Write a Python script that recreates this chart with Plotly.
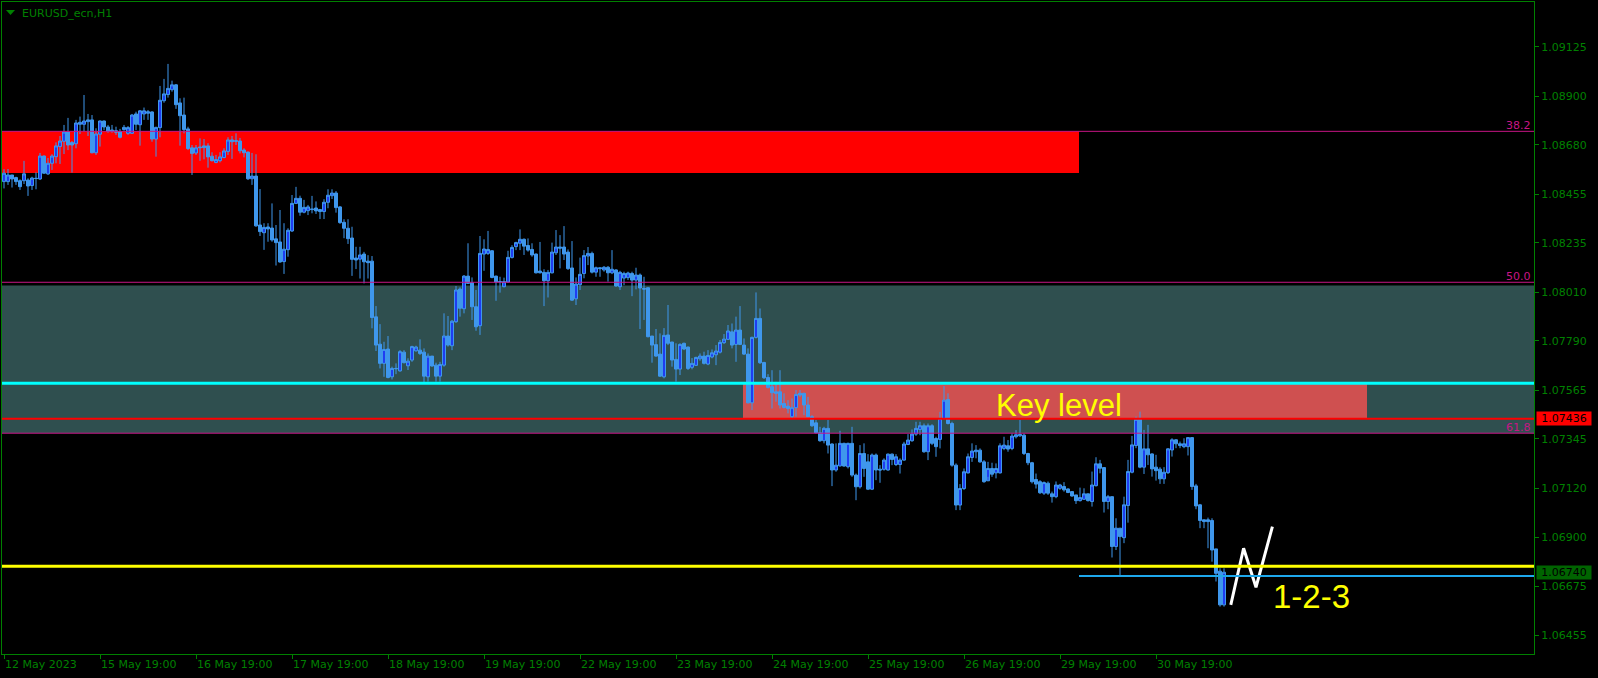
import plotly.graph_objects as go

# ---------------- data (EURUSD_ecn, H1) ----------------
open_ = [1.08513,1.08513,1.08543,1.08531,1.08517,1.08517,1.08520,1.08495,1.08528,1.08525,
1.08629,1.08548,1.08596,1.08626,1.08672,1.08696,1.08738,1.08690,1.08685,1.08773,
1.08773,1.08785,1.08793,1.08644,1.08728,1.08788,1.08761,1.08747,1.08744,1.08740,
1.08749,1.08732,1.08732,1.08820,1.08771,1.08820,1.08823,1.08829,1.08706,1.08758,
1.08880,1.08908,1.08930,1.08952,1.08870,1.08815,1.08752,1.08666,1.08643,1.08670,
1.08675,1.08675,1.08628,1.08600,1.08608,1.08622,1.08650,1.08702,1.08699,1.08697,
1.08656,1.08647,1.08526,1.08538,1.08316,1.08281,1.08307,1.08302,1.08253,1.08239,
1.08150,1.08204,1.08289,1.08414,1.08437,1.08374,1.08381,1.08389,1.08393,1.08386,
1.08377,1.08419,1.08449,1.08461,1.08398,1.08328,1.08301,1.08257,1.08166,1.08161,
1.08184,1.08152,1.08152,1.07899,1.07775,1.07688,1.07753,1.07627,1.07665,1.07654,
1.07739,1.07677,1.07703,1.07745,1.07748,1.07739,1.07627,1.07721,1.07680,1.07630,
1.07680,1.07812,1.07768,1.07877,1.08025,1.07936,1.08084,1.08054,1.07945,1.07859,
1.08184,1.08187,1.08199,1.08084,1.08059,1.08036,1.08057,1.08169,1.08218,1.08233,
1.08251,1.08223,1.08205,1.08184,1.08107,1.08101,1.08063,1.08099,1.08190,1.08216,
1.08216,1.08193,1.08121,1.07981,1.08045,1.08096,1.08175,1.08187,1.08102,1.08122,
1.08112,1.08124,1.08099,1.08112,1.08036,1.08075,1.08077,1.08096,1.08066,1.08089,
1.08028,1.08031,1.07812,1.07773,1.07730,1.07627,1.07817,1.07785,1.07706,1.07662,
1.07779,1.07762,1.07670,1.07679,1.07709,1.07721,1.07685,1.07717,1.07727,1.07739,
1.07782,1.07797,1.07831,1.07774,1.07839,1.07771,1.07730,1.07509,1.07806,1.07892,
1.07692,1.07624,1.07582,1.07559,1.07559,1.07506,1.07494,1.07446,1.07487,1.07552,
1.07552,1.07499,1.07446,1.07418,1.07373,1.07337,1.07393,1.07322,1.07204,1.07223,
1.07325,1.07219,1.07325,1.07181,1.07128,1.07279,1.07241,1.07117,1.07272,1.07208,
1.07207,1.07204,1.07276,1.07229,1.07229,1.07249,1.07320,1.07337,1.07367,1.07388,
1.07405,1.07287,1.07405,1.07347,1.07343,1.07438,1.07524,1.07415,1.07226,1.07045,
1.07120,1.07191,1.07261,1.07287,1.07294,1.07241,1.07155,1.07211,1.07191,1.07191,
1.07302,1.07314,1.07302,1.07355,1.07359,1.07362,1.07279,1.07237,1.07161,1.07151,
1.07099,1.07144,1.07096,1.07083,1.07121,1.07129,1.07118,1.07106,1.07091,1.07065,
1.07071,1.07096,1.07061,1.07133,1.07232,1.07215,1.07061,1.07083,1.06857,1.06940,
1.06897,1.07043,1.07194,1.07315,1.07434,1.07217,1.07300,1.07277,1.07217,1.07208,
1.07164,1.07192,1.07295,1.07341,1.07323,1.07310,1.07310,1.07351,1.07132,1.07046,
1.06978,1.06978,1.06975,1.06846,1.06745,1.06592]

high = [1.08569,1.08570,1.08543,1.08535,1.08523,1.08607,1.08528,1.08535,1.08555,1.08643,
1.08632,1.08620,1.08637,1.08691,1.08720,1.08770,1.08802,1.08697,1.08793,1.08808,
1.08906,1.08820,1.08815,1.08755,1.08790,1.08790,1.08770,1.08770,1.08762,1.08752,
1.08770,1.08765,1.08820,1.08830,1.08838,1.08849,1.08838,1.08832,1.08762,1.08947,
1.08979,1.09047,1.08971,1.08956,1.08891,1.08894,1.08762,1.08679,1.08679,1.08709,
1.08706,1.08687,1.08646,1.08634,1.08646,1.08664,1.08714,1.08720,1.08732,1.08711,
1.08664,1.08649,1.08643,1.08637,1.08479,1.08324,1.08324,1.08414,1.08316,1.08384,
1.08324,1.08301,1.08452,1.08489,1.08449,1.08430,1.08407,1.08448,1.08423,1.08389,
1.08433,1.08478,1.08478,1.08470,1.08402,1.08342,1.08342,1.08308,1.08217,1.08217,
1.08194,1.08179,1.08175,1.07948,1.07866,1.07786,1.07812,1.07673,1.07688,1.07748,
1.07748,1.07711,1.07768,1.07768,1.07797,1.07756,1.07733,1.07721,1.07691,1.07695,
1.07915,1.07903,1.07885,1.08039,1.08033,1.08089,1.08233,1.08078,1.08021,1.08266,
1.08251,1.08289,1.08202,1.08086,1.08081,1.08077,1.08199,1.08224,1.08240,1.08296,
1.08255,1.08255,1.08233,1.08187,1.08239,1.08115,1.08112,1.08236,1.08293,1.08270,
1.08311,1.08205,1.08243,1.08078,1.08168,1.08202,1.08216,1.08195,1.08127,1.08124,
1.08130,1.08130,1.08202,1.08115,1.08108,1.08104,1.08104,1.08104,1.08122,1.08096,
1.08081,1.08033,1.07812,1.07844,1.07824,1.07848,1.07953,1.07785,1.07779,1.07779,
1.07782,1.07764,1.07712,1.07718,1.07733,1.07741,1.07748,1.07751,1.07771,1.07794,
1.07821,1.07862,1.07869,1.07900,1.07948,1.07801,1.07756,1.07809,1.08010,1.07937,
1.07695,1.07639,1.07657,1.07604,1.07657,1.07552,1.07521,1.07529,1.07567,1.07567,
1.07555,1.07536,1.07453,1.07431,1.07400,1.07400,1.07431,1.07325,1.07325,1.07382,
1.07328,1.07328,1.07400,1.07188,1.07317,1.07325,1.07276,1.07279,1.07279,1.07226,
1.07257,1.07279,1.07279,1.07276,1.07257,1.07332,1.07367,1.07388,1.07423,1.07423,
1.07415,1.07415,1.07412,1.07355,1.07468,1.07585,1.07552,1.07423,1.07234,1.07140,
1.07211,1.07279,1.07325,1.07317,1.07302,1.07249,1.07241,1.07237,1.07234,1.07325,
1.07355,1.07340,1.07370,1.07385,1.07431,1.07370,1.07282,1.07241,1.07188,1.07158,
1.07152,1.07152,1.07106,1.07152,1.07141,1.07149,1.07121,1.07106,1.07091,1.07124,
1.07121,1.07096,1.07197,1.07262,1.07250,1.07216,1.07091,1.07083,1.06985,1.06940,
1.07083,1.07250,1.07359,1.07447,1.07469,1.07386,1.07409,1.07280,1.07273,1.07217,
1.07217,1.07303,1.07348,1.07344,1.07333,1.07348,1.07353,1.07353,1.07141,1.07050,
1.06978,1.06988,1.06985,1.06846,1.06758,1.06758]

low = [1.08482,1.08498,1.08486,1.08498,1.08475,1.08502,1.08448,1.08475,1.08478,1.08520,
1.08548,1.08543,1.08566,1.08596,1.08593,1.08638,1.08656,1.08554,1.08664,1.08729,
1.08740,1.08720,1.08641,1.08634,1.08672,1.08747,1.08735,1.08735,1.08725,1.08709,
1.08744,1.08725,1.08729,1.08747,1.08676,1.08793,1.08793,1.08694,1.08626,1.08714,
1.08871,1.08894,1.08921,1.08843,1.08676,1.08732,1.08656,1.08543,1.08634,1.08607,
1.08614,1.08576,1.08604,1.08596,1.08600,1.08619,1.08634,1.08616,1.08679,1.08641,
1.08623,1.08520,1.08498,1.08308,1.08266,1.08203,1.08240,1.08240,1.08132,1.08145,
1.08094,1.08172,1.08284,1.08411,1.08358,1.08369,1.08361,1.08369,1.08366,1.08343,
1.08343,1.08392,1.08434,1.08372,1.08321,1.08256,1.08230,1.08085,1.08116,1.08073,
1.08051,1.08073,1.07847,1.07744,1.07665,1.07627,1.07620,1.07615,1.07639,1.07650,
1.07688,1.07658,1.07695,1.07741,1.07726,1.07597,1.07605,1.07673,1.07605,1.07605,
1.07673,1.07764,1.07748,1.07872,1.07900,1.07915,1.08048,1.07885,1.07836,1.07817,
1.08108,1.08180,1.08074,1.07972,1.08009,1.08033,1.08054,1.08164,1.08202,1.08202,
1.08180,1.08195,1.08172,1.08096,1.08096,1.07948,1.07987,1.08096,1.08180,1.08119,
1.08157,1.08112,1.07972,1.07953,1.08021,1.08074,1.08134,1.08096,1.08081,1.08081,
1.08104,1.08059,1.08093,1.08036,1.08021,1.08043,1.08066,1.07993,1.08024,1.07844,
1.07885,1.07806,1.07691,1.07718,1.07627,1.07620,1.07771,1.07673,1.07605,1.07635,
1.07748,1.07658,1.07661,1.07676,1.07700,1.07683,1.07680,1.07711,1.07680,1.07733,
1.07776,1.07794,1.07756,1.07695,1.07771,1.07726,1.07506,1.07476,1.07801,1.07685,
1.07617,1.07574,1.07483,1.07514,1.07483,1.07483,1.07461,1.07438,1.07446,1.07536,
1.07453,1.07446,1.07400,1.07370,1.07332,1.07325,1.07279,1.07131,1.07196,1.07219,
1.07219,1.07211,1.07173,1.07067,1.07120,1.07173,1.07113,1.07113,1.07158,1.07146,
1.07201,1.07201,1.07226,1.07222,1.07188,1.07246,1.07317,1.07332,1.07359,1.07362,
1.07282,1.07249,1.07317,1.07264,1.07302,1.07434,1.07411,1.07219,1.07022,1.07022,
1.07113,1.07188,1.07241,1.07257,1.07237,1.07146,1.07173,1.07173,1.07166,1.07188,
1.07294,1.07287,1.07294,1.07347,1.07355,1.07272,1.07226,1.07143,1.07120,1.07095,
1.07091,1.07091,1.07056,1.07076,1.07114,1.07106,1.07099,1.07083,1.07050,1.07061,
1.07068,1.07061,1.07038,1.07129,1.07189,1.07011,1.07026,1.06807,1.06841,1.06723,
1.06872,1.06965,1.07189,1.07303,1.07212,1.07186,1.07227,1.07174,1.07156,1.07141,
1.07141,1.07186,1.07265,1.07303,1.07303,1.07303,1.07270,1.07114,1.07026,1.06940,
1.06940,1.06849,1.06788,1.06698,1.06584,1.06584]

close = [1.08551,1.08543,1.08525,1.08513,1.08490,1.08548,1.08493,1.08529,1.08527,1.08629,
1.08551,1.08596,1.08629,1.08675,1.08697,1.08738,1.08679,1.08679,1.08779,1.08782,
1.08788,1.08793,1.08644,1.08729,1.08788,1.08761,1.08740,1.08740,1.08737,1.08714,
1.08759,1.08758,1.08815,1.08773,1.08834,1.08834,1.08830,1.08706,1.08759,1.08882,
1.08911,1.08936,1.08952,1.08862,1.08812,1.08749,1.08663,1.08641,1.08666,1.08667,
1.08667,1.08625,1.08608,1.08613,1.08625,1.08652,1.08702,1.08694,1.08696,1.08653,
1.08644,1.08526,1.08538,1.08312,1.08286,1.08305,1.08298,1.08248,1.08236,1.08148,
1.08206,1.08292,1.08414,1.08437,1.08374,1.08396,1.08398,1.08386,1.08380,1.08377,
1.08419,1.08451,1.08461,1.08395,1.08327,1.08301,1.08254,1.08160,1.08157,1.08180,
1.08149,1.08145,1.07896,1.07771,1.07688,1.07751,1.07624,1.07665,1.07664,1.07741,
1.07691,1.07698,1.07764,1.07762,1.07733,1.07630,1.07721,1.07676,1.07630,1.07683,
1.07812,1.07771,1.07879,1.08021,1.07938,1.08084,1.08051,1.07945,1.07854,1.08187,
1.08207,1.08205,1.08078,1.08057,1.08058,1.08059,1.08169,1.08214,1.08236,1.08251,
1.08220,1.08202,1.08180,1.08099,1.08099,1.08063,1.08101,1.08193,1.08216,1.08211,
1.08184,1.08118,1.07975,1.08048,1.08092,1.08177,1.08187,1.08102,1.08122,1.08118,
1.08124,1.08099,1.08115,1.08039,1.08101,1.08096,1.08098,1.08066,1.08089,1.08030,
1.08025,1.07809,1.07771,1.07721,1.07630,1.07815,1.07779,1.07703,1.07662,1.07774,
1.07753,1.07665,1.07688,1.07715,1.07721,1.07688,1.07724,1.07736,1.07744,1.07783,
1.07798,1.07835,1.07771,1.07839,1.07774,1.07730,1.07509,1.07806,1.07892,1.07691,
1.07623,1.07579,1.07555,1.07552,1.07499,1.07488,1.07483,1.07487,1.07547,1.07544,
1.07499,1.07446,1.07405,1.07373,1.07337,1.07393,1.07317,1.07204,1.07226,1.07325,
1.07222,1.07325,1.07181,1.07128,1.07279,1.07211,1.07117,1.07272,1.07204,1.07204,
1.07249,1.07276,1.07252,1.07264,1.07249,1.07322,1.07340,1.07367,1.07393,1.07405,
1.07287,1.07405,1.07325,1.07310,1.07438,1.07521,1.07415,1.07226,1.07045,1.07120,
1.07196,1.07264,1.07290,1.07294,1.07241,1.07151,1.07211,1.07185,1.07211,1.07314,
1.07317,1.07299,1.07358,1.07364,1.07365,1.07279,1.07237,1.07151,1.07140,1.07101,
1.07147,1.07099,1.07083,1.07136,1.07136,1.07114,1.07102,1.07086,1.07065,1.07079,
1.07096,1.07065,1.07136,1.07232,1.07212,1.07061,1.07083,1.06857,1.06940,1.06902,
1.07046,1.07197,1.07318,1.07434,1.07217,1.07300,1.07273,1.07209,1.07201,1.07164,
1.07194,1.07300,1.07341,1.07323,1.07315,1.07323,1.07351,1.07129,1.07041,1.06975,
1.06970,1.06970,1.06841,1.06735,1.06592,1.06740]

bars = list(range(len(close)))

time_tick_bars = [0, 24, 48, 72, 96, 120, 144, 168, 192, 216, 240, 264, 288]
time_tick_labels = ["12 May 2023", "15 May 19:00", "16 May 19:00", "17 May 19:00",
                    "18 May 19:00", "19 May 19:00", "22 May 19:00", "23 May 19:00",
                    "24 May 19:00", "25 May 19:00", "26 May 19:00", "29 May 19:00",
                    "30 May 19:00"]

price_ticks = [1.09125, 1.08900, 1.08680, 1.08455, 1.08235, 1.08010, 1.07790,
               1.07565, 1.07345, 1.07120, 1.06900, 1.06675, 1.06455]
price_tick_labels = ["1.09125", "1.08900", "1.08680", "1.08455", "1.08235", "1.08010",
                     "1.07790", "1.07565", "1.07345", "1.07120", "1.06900", "1.06675",
                     "1.06455"]

fib_levels = [1.08741, 1.08056, 1.07371]
fib_labels = ["38.2", "50.0", "61.8"]

supply_zone = [1.08552, 1.08741]
supply_zone_end_bar = 268.75
retrace_zone = [1.07371, 1.08041]
key_zone = [1.07437, 1.07598]
key_zone_bars = [184.75, 340.75]
cyan_level = 1.07598
red_level = 1.07437
red_level_label = "1.07436"
yellow_level = 1.06767
blue_level = 1.06723
blue_level_start_bar = 268.75
last_price = 1.06740
last_price_label = "1.06740"

zigzag_bars = [306.7, 309.9, 313.0, 317.1]
zigzag_prices = [1.06592, 1.06849, 1.06672, 1.06947]

key_label_pos = (263.75, 1.07497)
pattern_label_pos = (326.9, 1.06628)

x_range = [-0.5, 382.5]
y_range = [1.06369, 1.09328]

# ---------------- style ----------------
GREEN = "#008000"
WICK = "#3F97EC"
BULL_FILL = "#1F3DF2"
FIB = "#C71585"
FONT = "DejaVu Sans"

fig = go.Figure()
fig.add_trace(go.Candlestick(
    x=bars, open=open_, high=high, low=low, close=close,
    increasing=dict(line=dict(color=WICK, width=1), fillcolor=BULL_FILL),
    decreasing=dict(line=dict(color=WICK, width=1), fillcolor=WICK),
    whiskerwidth=0, hoverinfo="skip", showlegend=False))
fig.add_trace(go.Scatter(
    x=zigzag_bars, y=zigzag_prices, mode="lines",
    line=dict(color="white", width=3), hoverinfo="skip", showlegend=False))

shapes = []
# zones (below candles)
shapes.append(dict(type="rect", xref="x", yref="y", x0=x_range[0], x1=supply_zone_end_bar,
                   y0=supply_zone[0], y1=supply_zone[1], fillcolor="#FF0000",
                   line=dict(width=0), layer="below"))
shapes.append(dict(type="rect", xref="paper", yref="y", x0=0, x1=1,
                   y0=retrace_zone[0], y1=retrace_zone[1], fillcolor="#2F4F4F",
                   line=dict(width=0), layer="below"))
shapes.append(dict(type="rect", xref="x", yref="y", x0=key_zone_bars[0], x1=key_zone_bars[1],
                   y0=key_zone[0], y1=key_zone[1], fillcolor="#CF5050",
                   line=dict(width=0), layer="below"))
# horizontal levels (above)
for lvl in fib_levels:
    shapes.append(dict(type="line", xref="paper", yref="y", x0=0, x1=1, y0=lvl, y1=lvl,
                       line=dict(color=FIB, width=1), layer="above"))
shapes.append(dict(type="line", xref="paper", yref="y", x0=0, x1=1, y0=cyan_level, y1=cyan_level,
                   line=dict(color="#00FFFF", width=3), layer="above"))
shapes.append(dict(type="line", xref="paper", yref="y", x0=0, x1=1, y0=red_level, y1=red_level,
                   line=dict(color="#FF0000", width=2), layer="above"))
shapes.append(dict(type="line", xref="paper", yref="y", x0=0, x1=1, y0=yellow_level, y1=yellow_level,
                   line=dict(color="#FFFF00", width=3), layer="above"))
shapes.append(dict(type="line", xref="x", yref="y", x0=blue_level_start_bar, x1=x_range[1],
                   y0=blue_level, y1=blue_level,
                   line=dict(color="#1EA8EC", width=2), layer="above"))
# small menu triangle next to the symbol caption
shapes.append(dict(type="path", xref="paper", yref="paper", xsizemode="pixel", ysizemode="pixel",
                   xanchor=0, yanchor=1, path="M 4,-8 L 13,-8 L 8.5,-13 Z",
                   fillcolor=GREEN, line=dict(width=0), layer="above"))

annotations = []
annotations.append(dict(text="EURUSD_ecn,H1", xref="paper", yref="paper", x=0, y=1,
                        xanchor="left", yanchor="top", xshift=18, yshift=-3, showarrow=False,
                        font=dict(family=FONT, size=11, color=GREEN)))
for lvl, lab in zip(fib_levels, fib_labels):
    annotations.append(dict(text=lab, xref="paper", yref="y", x=1, y=lvl, xanchor="right",
                            yanchor="bottom", xshift=-1, yshift=-3, showarrow=False,
                            font=dict(family=FONT, size=11, color=FIB)))
annotations.append(dict(text="Key level", xref="x", yref="y", x=key_label_pos[0], y=key_label_pos[1],
                        xanchor="center", yanchor="middle", showarrow=False,
                        font=dict(family="Liberation Sans, Arial", size=31, color="#FFFF00")))
annotations.append(dict(text="1-2-3", xref="x", yref="y", x=pattern_label_pos[0], y=pattern_label_pos[1],
                        xanchor="center", yanchor="middle", showarrow=False,
                        font=dict(family="Liberation Sans, Arial", size=33, color="#FFFF00")))
annotations.append(dict(text=red_level_label, xref="paper", yref="y", x=1, y=red_level,
                        xanchor="left", yanchor="middle", xshift=2, showarrow=False,
                        bgcolor="#FF0000", width=54, height=13, borderpad=0,
                        font=dict(family=FONT, size=11, color="#000000")))
annotations.append(dict(text=last_price_label, xref="paper", yref="y", x=1, y=last_price,
                        xanchor="left", yanchor="middle", xshift=2, showarrow=False,
                        bgcolor="#006400", width=54, height=13, borderpad=0,
                        font=dict(family=FONT, size=11, color="#000000")))

fig.update_layout(
    width=1598, height=678,
    margin=dict(l=2, r=64, t=2, b=24, pad=0),
    paper_bgcolor="#000000", plot_bgcolor="#000000",
    showlegend=False, hovermode=False,
    boxgap=0.25, boxgroupgap=0,
    shapes=shapes, annotations=annotations,
    xaxis=dict(range=x_range, showgrid=False, zeroline=False, showline=True, linecolor=GREEN,
               linewidth=1, mirror=True, ticks="outside", ticklen=4, tickcolor=GREEN,
               tickvals=time_tick_bars, ticktext=time_tick_labels,
               ticklabelposition="outside right",
               tickfont=dict(family=FONT, size=11, color=GREEN),
               rangeslider=dict(visible=False), fixedrange=True),
    yaxis=dict(range=y_range, side="right", showgrid=False, zeroline=False, showline=True,
               linecolor=GREEN, linewidth=1, mirror=True, ticks="outside", ticklen=4,
               tickcolor=GREEN, tickvals=price_ticks, ticktext=price_tick_labels,
               tickfont=dict(family=FONT, size=11, color=GREEN), fixedrange=True),
)

fig.write_html("out.html", config={"displayModeBar": False},
               post_script="document.body.style.margin='0';document.body.style.padding='0';"
                           "document.body.style.overflow='hidden';document.body.style.background='#000';")
